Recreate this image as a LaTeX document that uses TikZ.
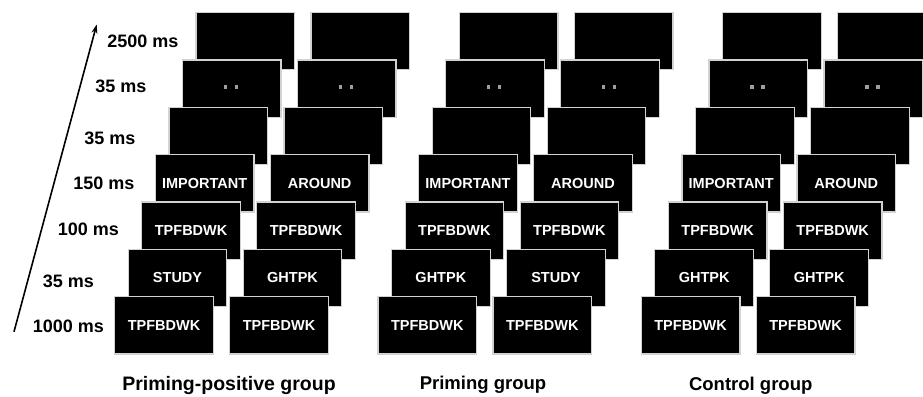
\documentclass[tikz,border=0pt]{standalone}
\usepackage{fontspec}
\setmainfont{Liberation Sans}
\usetikzlibrary{arrows.meta}
\begin{document}
\begin{tikzpicture}[x=1pt,y=-1pt,
  screen/.style={rectangle, fill=black, draw=gray!35, line width=1.2pt,
    minimum width=98.6pt, minimum height=57.3pt, inner sep=0pt, text=white,
    font=\bfseries\fontsize{14.5}{16}\selectfont},
  timelabel/.style={font=\bfseries\fontsize{18}{20}\selectfont, inner sep=0pt},
  grouplabel/.style={font=\bfseries\fontsize{18.5}{20}\selectfont, inner sep=0pt},
  fixdot/.style={rectangle, fill=gray!75, minimum size=3.5pt, inner sep=0pt}]
\useasboundingbox[fill=white] (0,0) rectangle (923,396);
\clip (0,0) rectangle (923,396);
% screens, drawn from back (top row) to front (bottom row)
\foreach \r/\aa/\ab/\ba/\bb/\ca/\cb in {
  6/{}/{}/{}/{}/{}/{},
  5/{}/{}/{}/{}/{}/{},
  4/{}/{}/{}/{}/{}/{},
  3/IMPORTANT/AROUND/IMPORTANT/AROUND/IMPORTANT/AROUND,
  2/TPFBDWK/TPFBDWK/TPFBDWK/TPFBDWK/TPFBDWK/TPFBDWK,
  1/STUDY/GHTPK/GHTPK/STUDY/GHTPK/GHTPK,
  0/TPFBDWK/TPFBDWK/TPFBDWK/TPFBDWK/TPFBDWK/TPFBDWK}{
  \node[screen] (s-0-\r-0) at ({164+13.55*\r}, {325.35-47.35*\r}) {\aa};
  \node[screen] (s-0-\r-1) at ({164+115+13.55*\r}, {325.35-47.35*\r}) {\ab};
  \node[screen] (s-1-\r-0) at ({164+263.3+13.55*\r}, {325.35-47.35*\r}) {\ba};
  \node[screen] (s-1-\r-1) at ({164+263.3+115+13.55*\r}, {325.35-47.35*\r}) {\bb};
  \node[screen] (s-2-\r-0) at ({164+526.6+13.55*\r}, {325.35-47.35*\r}) {\ca};
  \node[screen] (s-2-\r-1) at ({164+526.6+115+13.55*\r}, {325.35-47.35*\r}) {\cb};
}
% fixation dots on the 35 ms screens
\foreach \g in {0,1,2}{
  \foreach \c in {0,1}{
    \node[fixdot] (d-\g-\c-a) at ([shift={(-6.5,-1.5)}]s-\g-5-\c.center) {};
    \node[fixdot] (d-\g-\c-b) at ([shift={(4.5,-1.5)}]s-\g-5-\c.center) {};
  }
}
% time arrow
\coordinate (arrowstart) at (14,331.7);
\coordinate (arrowend) at (96.7,24.5);
\draw[-{Stealth[length=9pt,width=6pt]}, line width=1.6pt] (arrowstart) -- (arrowend);
% time labels
\node[timelabel] (t6) at (143,41) {2500 ms};
\node[timelabel] (t5) at (121,86) {35 ms};
\node[timelabel] (t4) at (110,138) {35 ms};
\node[timelabel] (t3) at (104,183) {150 ms};
\node[timelabel] (t2) at (88.5,229) {100 ms};
\node[timelabel] (t1) at (68.5,281) {35 ms};
\node[timelabel] (t0) at (68.3,326) {1000 ms};
% group labels
\node[grouplabel, font=\bfseries\fontsize{19.5}{21}\selectfont] (g0) at (229,385) {Priming-positive group};
\node[grouplabel] (g1) at (483,385) {Priming group};
\node[grouplabel] (g2) at (750.7,386) {Control group};
\end{tikzpicture}
\end{document}
